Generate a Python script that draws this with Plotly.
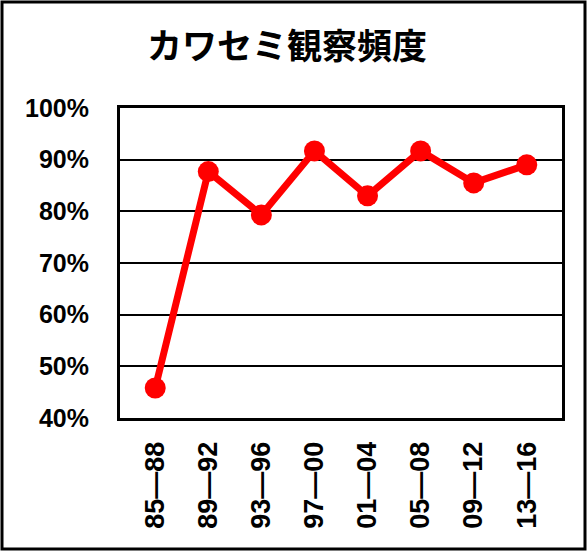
import plotly.graph_objects as go

categories = ["85—88", "89—92", "93—96", "97—00", "01—04", "05—08", "09—12", "13—16"]
values = [0.458, 0.877, 0.793, 0.917, 0.830, 0.917, 0.855, 0.890]
title = "カワセミ観察頻度"

W, H = 587, 551
ml, mr, mt, mb = 120, 25, 108, 133
pw, ph = W - ml - mr, H - mt - mb

fig = go.Figure(go.Scatter(
    x=categories, y=values, mode="lines+markers",
    line=dict(color="#ff0000", width=7),
    marker=dict(color="#ff0000", size=21),
))

fig.update_layout(
    width=W, height=H,
    margin=dict(l=ml, r=mr, t=mt, b=mb, autoexpand=False),
    paper_bgcolor="white", plot_bgcolor="white",
    showlegend=False,
    title=dict(text=title, x=287 / W, xanchor="center", y=1 - 47 / H, yanchor="middle",
               font=dict(family="Noto Sans CJK JP", size=35, color="black", weight="bold")),
    font=dict(family="Liberation Sans, Arial", color="black"),
)
fig.update_xaxes(
    type="category", tickangle=-90, automargin=False,
    tickfont=dict(family="Liberation Sans", size=27, weight="bold", color="black"),
    showline=True, linecolor="black", linewidth=3, mirror=True,
    showgrid=False, ticks="", ticklabelstandoff=10,
)
fig.update_yaxes(
    range=[0.4, 1.0], dtick=0.1, tickformat=".0%", automargin=False,
    tickfont=dict(family="Liberation Sans", size=25, weight="bold", color="black"),
    showline=True, linecolor="black", linewidth=3, mirror=True,
    showgrid=True, gridcolor="black", gridwidth=2,
    ticks="", ticklabelstandoff=23, zeroline=False,
)
# outer frame
fig.add_shape(type="rect", xref="paper", yref="paper",
              x0=-(ml - 2) / pw, x1=1 + (mr - 2) / pw,
              y0=-(mb - 2) / ph, y1=1 + (mt - 2) / ph,
              line=dict(color="black", width=3), fillcolor="rgba(0,0,0,0)")

fig.write_html("out.html", config={"displayModeBar": False},
               post_script="document.body.style.margin='0';document.body.style.overflow='hidden';")
